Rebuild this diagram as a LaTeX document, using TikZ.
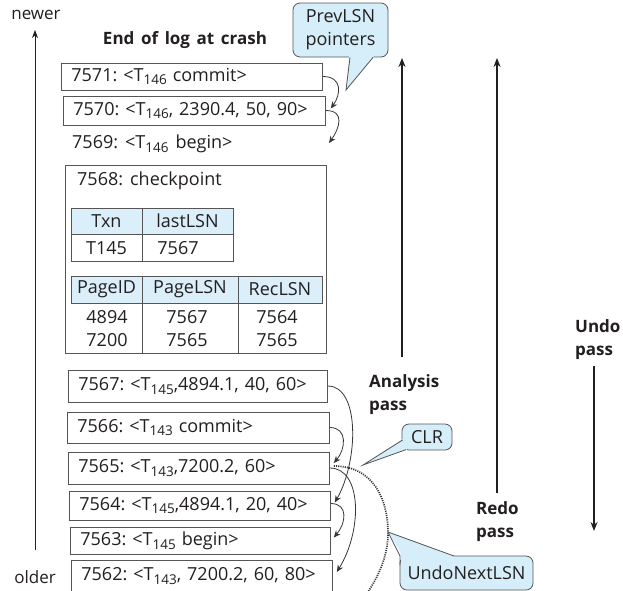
\documentclass[tikz,border=0pt]{standalone}
\usepackage{fontspec}
\setmainfont{Open Sans}[WordSpace=1.5]
\usetikzlibrary{arrows.meta}
\definecolor{cfill}{RGB}{214,238,249}
\definecolor{hfill}{RGB}{218,239,250}
\definecolor{bord}{RGB}{85,85,85}
\definecolor{ink}{RGB}{35,31,32}
\newcommand{\lsub}[1]{\raisebox{-0.4ex}{\fontsize{13.5}{14}\selectfont #1}}
\tikzset{
  rec/.style={draw=bord, line width=0.8pt, text width=#1, align=left, inner xsep=10pt, inner ysep=0pt, anchor=west},
  cur/.style={draw=ink!90, line width=0.8pt, -{Stealth[length=7pt,width=6pt]}},
  varrow/.style={draw=ink, line width=1.4pt, -{Stealth[length=9pt,width=7pt]}},
  lbl/.style={font=\fontsize{17}{23}\selectfont\bfseries, text=ink, align=left, inner sep=0pt},
  callout/.style={draw=bord, fill=cfill, line width=0.8pt, rounded corners=7pt, align=center, inner sep=0pt, text=ink},
  cell/.style={inner sep=0pt, text=ink}
}
\begin{document}
\frenchspacing
\begin{tikzpicture}[x=1pt,y=-1pt, font=\fontsize{18}{23}\selectfont, text=ink]
\clip (0,0) rectangle (623,590);
\fill[white] (0,0) rectangle (623,590);

% left time arrow
\coordinate (oldend) at (35,550);
\coordinate (newend) at (35,30);
\draw[draw=ink, line width=0.9pt, -{Stealth[length=8pt,width=6pt]}] (oldend) -- (newend);
\node[font=\fontsize{17}{19}\selectfont, inner sep=0pt] (newer) at (36,15) {newer};
\node[font=\fontsize{17}{19}\selectfont, inner sep=0pt] (older) at (35,577) {older};

\node[lbl] (eol) at (185,40) {End of log at crash};

% upper log records
\node[rec=241pt, minimum height=27pt] (r7571) at (61,76.5) {7571: <T\lsub{146} commit>};
\node[rec=242pt, minimum height=29pt] (r7570) at (63,110.5) {7570: <T\lsub{146}, 2390.4, 50, 90>};
\node[anchor=west, inner xsep=10pt] (r7569) at (62,144) {7569: <T\lsub{146} begin>};
\coordinate (c7569) at (329,143);

% checkpoint
\node[draw=bord, line width=0.8pt, minimum width=261pt, minimum height=188pt, anchor=north west, inner sep=0pt] (ckpt) at (65,165) {};
\node[anchor=west, inner sep=0pt] (ckt) at (77,181) {7568: checkpoint};
% table 1
\filldraw[draw=bord, fill=hfill, line width=0.8pt] (71,208) rectangle (233,234);
\draw[draw=bord, line width=0.8pt] (71,234) rectangle (233,261) (142,208) -- (142,261);
\node[cell] (t1a) at (106.5,221) {Txn};
\node[cell] (t1b) at (187.5,221) {lastLSN};
\node[cell] (t1c) at (106.5,248) {T145};
\node[cell] (t1d) at (178,248) {7567};
% table 2
\filldraw[draw=bord, fill=hfill, line width=0.8pt] (71,276) rectangle (322,303);
\draw[draw=bord, line width=0.8pt] (142,276) -- (142,353) (238,276) -- (238,353);
\node[cell] (t2a) at (106.5,289.5) {PageID};
\node[cell] (t2b) at (190,289.5) {PageLSN};
\node[cell] (t2c) at (280,289.5) {RecLSN};
\node[cell] (t2d) at (107,317) {4894};
\node[cell] (t2e) at (187,317) {7567};
\node[cell] (t2f) at (277,317) {7564};
\node[cell] (t2g) at (107,340) {7200};
\node[cell] (t2h) at (187,340) {7565};
\node[cell] (t2i) at (277,340) {7565};

% lower log records
\node[rec=239pt, minimum height=32pt] (r7567) at (68,386) {7567: <T\lsub{145},4894.1, 40, 60>};
\node[rec=242pt, minimum height=31pt] (r7566) at (67,427.5) {7566: <T\lsub{143} commit>};
\node[rec=241pt, minimum height=32pt] (r7565) at (68,468) {7565: <T\lsub{143},7200.2, 60>};
\node[rec=241pt, minimum height=29pt] (r7564) at (69,505.5) {7564: <T\lsub{145},4894.1, 20, 40>};
\node[rec=240pt, minimum height=27pt] (r7563) at (70,540.5) {7563: <T\lsub{145} begin>};
\node[rec=241pt, minimum height=32pt] (r7562) at (71,576) {7562: <T\lsub{143}, 7200.2, 60, 80>};

% PrevLSN pointers
\draw[cur] (r7571.east) .. controls +(20,0) and +(10,-14) .. ([shift={(5,-2)}]r7570.east);
\draw[cur] (r7570.east) .. controls +(20,0) and +(10,-14) .. (c7569);
\draw[cur] (r7567.east) .. controls +(32,0) and +(24,-42) .. ([shift={(4,-3)}]r7564.east);
\draw[cur] (r7566.east) .. controls +(18,0) and +(12,-14) .. ([shift={(4,-5)}]r7565.east);
\draw[cur] (r7565.east) .. controls +(32,0) and +(26,-42) .. ([shift={(4,-4)}]r7562.east);
\draw[cur] ([yshift=2]r7564.east) .. controls +(18,0) and +(12,-14) .. ([shift={(3,-3)}]r7563.east);

% UndoNextLSN dotted
\coordinate (dotend) at (364,598);
\draw[draw=ink!90, line width=1.7pt, dash pattern=on 1.1pt off 1.1pt]
  ([shift={(4,-2)}]r7565.east) .. controls +(40,0) and (388,500) .. (388,533)
  .. controls (388,560) and (375,582) .. (dotend);

% pass arrows
\coordinate (an0) at (402,357); \coordinate (an1) at (402,58);
\coordinate (re0) at (497,493); \coordinate (re1) at (497,58);
\coordinate (un0) at (594,366); \coordinate (un1) at (594,531);
\draw[varrow] (an0) -- (an1);
\draw[varrow] (re0) -- (re1);
\draw[varrow] (un0) -- (un1);
\node[lbl, anchor=west] (anl) at (369,395) {Analysis\\pass};
\node[lbl, anchor=west] (rel) at (476,522) {Redo\\pass};
\node[lbl, anchor=west] (unl) at (575,340) {Undo\\pass};

% callouts
\node[callout, minimum width=95pt, minimum height=54pt] (prev) at (340.5,30) {PrevLSN\\pointers};
\fill[cfill] (349,56) -- (346,90) -- (374,56) -- cycle;
\draw[draw=bord, line width=0.8pt] (350,57.4) -- (346,90) -- (373,57.4);

\node[callout, minimum width=50pt, minimum height=26pt] (clr) at (427,437) {CLR};
\fill[cfill] (402.5,439) -- (363,465) -- (407,449.5) -- cycle;
\draw[draw=bord, line width=0.8pt] (402.6,440) -- (363,465) -- (406,449.6);

\node[callout, minimum width=133pt, minimum height=34pt] (unl2) at (466.5,573) {UndoNextLSN};
\fill[cfill] (400.4,552) -- (388,532) -- (454,556.5) -- (454,560) -- (400.4,560) -- cycle;
\draw[draw=bord, line width=0.8pt] (400,565) -- (400,556) -- (388,532) -- (454,556);
\end{tikzpicture}
\end{document}
